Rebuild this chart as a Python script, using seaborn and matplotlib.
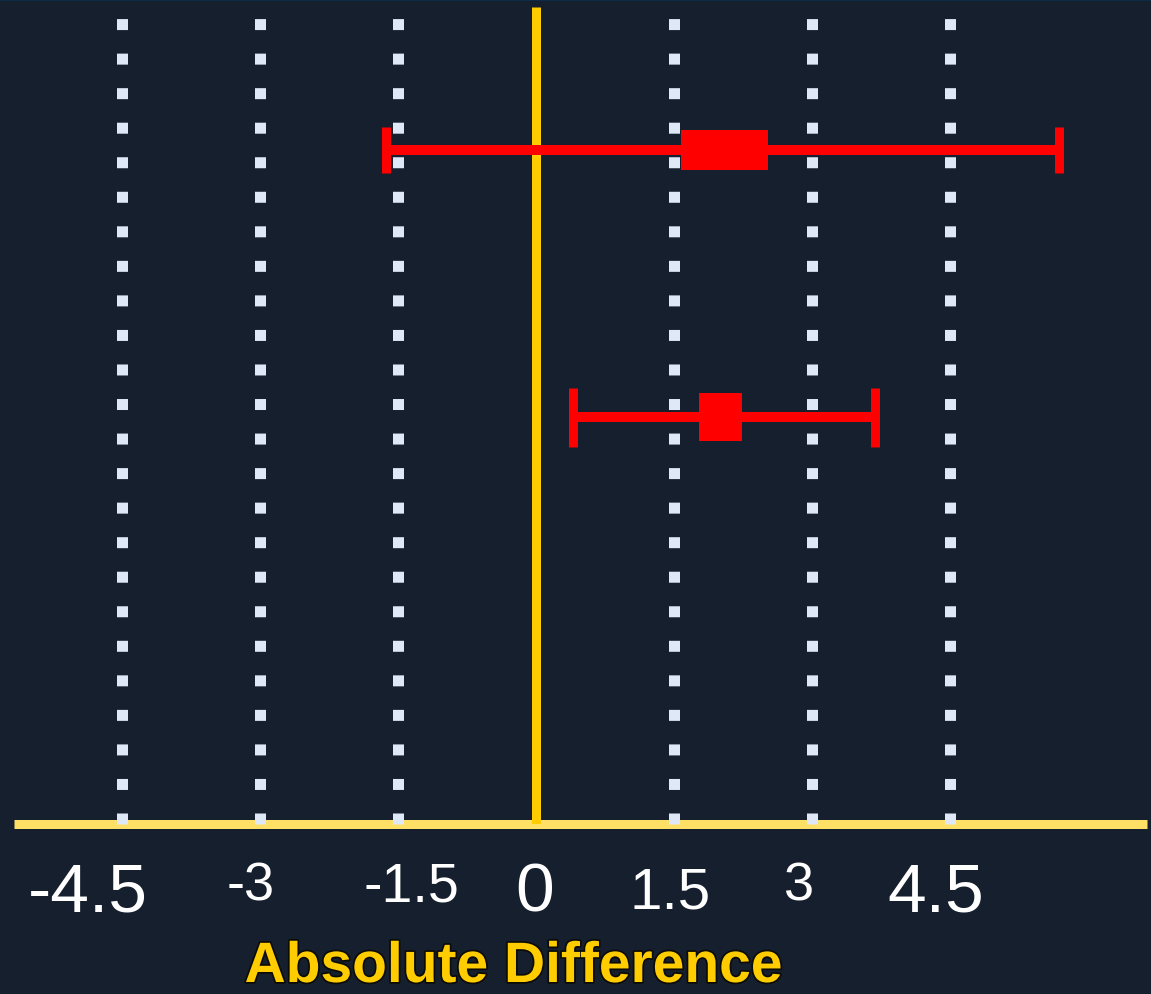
import numpy as np
import pandas as pd
import seaborn as sns
import matplotlib
matplotlib.use("Agg")
import matplotlib.pyplot as plt
from matplotlib import transforms, patheffects

# ---- data -------------------------------------------------------------
groups = ["Group 1", "Group 2"]
estimate = [2.05, 2.00]
ci_low = [-1.63, 0.40]
ci_high = [5.68, 3.68]
box_low = [1.58, 1.77]
box_high = [2.52, 2.24]

tick_values = [-4.5, -3, -1.5, 0, 1.5, 3, 4.5]
tick_labels = ["-4.5", "-3", "-1.5", "0", "1.5", "3", "4.5"]
x_title = "Absolute Difference"

# ---- styling ----------------------------------------------------------
BG = "#161f2e"
RED = "#ff0000"
GOLD = "#ffcc00"
AXIS_GOLD = "#ffe066"
DOT = "#dfe8f7"

tick_sizes = [50, 39, 40, 50, 42, 39, 50]          # pt
tick_shift = [(-34, 0), (-9, 0), (13, 0), (-1, 0), (-4, -5), (-13, 0), (-14, 0)]  # px
box_heights = [0.150, 0.180]                        # rows
cap_px = [47, 59]                                   # cap length in px

sns.set_style("dark", rc={"axes.facecolor": BG, "figure.facecolor": BG})
plt.rcParams["font.family"] = ["Liberation Sans", "DejaVu Sans"]

DPI = 100
W, H = 1151, 995
fig = plt.figure(figsize=(W / DPI, H / DPI), dpi=DPI, facecolor=BG)
ax = fig.add_axes([14 / W, (H - 825) / H, 1133 / W, 817 / H])
ax.set_facecolor(BG)

px = 72 / DPI  # points per pixel

df = pd.DataFrame({
    "group": groups, "row": np.arange(len(groups)),
    "est": estimate, "lo": ci_low, "hi": ci_high,
    "blo": box_low, "bhi": box_high,
})

x_min, x_max = -5.674, 6.641
y_bottom, y_top = 2.527, -0.538
ax.set_xlim(x_min, x_max)
ax.set_ylim(y_bottom, y_top)

# dotted vertical grid (the zero position carries the solid reference line)
grid_x = [v for v in tick_values if v != 0]
ax.vlines(grid_x, y_bottom, y_top, colors=DOT, linewidth=11 * px,
          linestyles=[(0, (1, 2.14))], capstyle="butt", zorder=3, clip_on=False)

# x axis line and zero reference
ax.axhline(y_bottom, color=AXIS_GOLD, linewidth=9 * px, zorder=2.8, clip_on=False,
           solid_capstyle="butt")
ax.axvline(0, color=GOLD, linewidth=9 * px, zorder=2.9, solid_capstyle="butt")

# whiskers with caps
for r in df.itertuples():
    ax.errorbar(r.est, r.row, xerr=[[r.est - r.lo], [r.hi - r.est]], fmt="none",
                ecolor=RED, elinewidth=10 * px, capsize=cap_px[r.row] / 2 * px,
                capthick=9 * px, zorder=4)

# central boxes
ax.barh(df["row"], df["bhi"] - df["blo"], left=df["blo"], height=box_heights,
        color=RED, edgecolor="none", zorder=5)

for s in ax.spines.values():
    s.set_visible(False)
ax.set_yticks([])
ax.set_xticks(tick_values)
ax.set_xticklabels(tick_labels, color="white")
ax.tick_params(axis="x", length=0, pad=37 * px)
ax.grid(False)

for lab, size, (dx, dy) in zip(ax.get_xticklabels(), tick_sizes, tick_shift):
    lab.set_fontsize(size)
    lab.set_transform(lab.get_transform() +
                      transforms.ScaledTranslation(dx / DPI, dy / DPI, fig.dpi_scale_trans))

ax.set_xlabel(x_title, fontsize=41, fontweight="bold", color=GOLD)
ax.xaxis.label.set_path_effects([patheffects.withStroke(linewidth=2.5, foreground="#0c0c06")])
ax.xaxis.set_label_coords((514 - 14) / 1133, (825 - 941) / 817)
ax.xaxis.label.set_va("top")

# thin top edge
fig.add_artist(plt.Line2D([0, 1], [1 - 1 / H, 1 - 1 / H], transform=fig.transFigure,
                          color="#0d2b47", linewidth=2 * px))

fig.savefig("out.png", dpi=DPI, facecolor=BG)
